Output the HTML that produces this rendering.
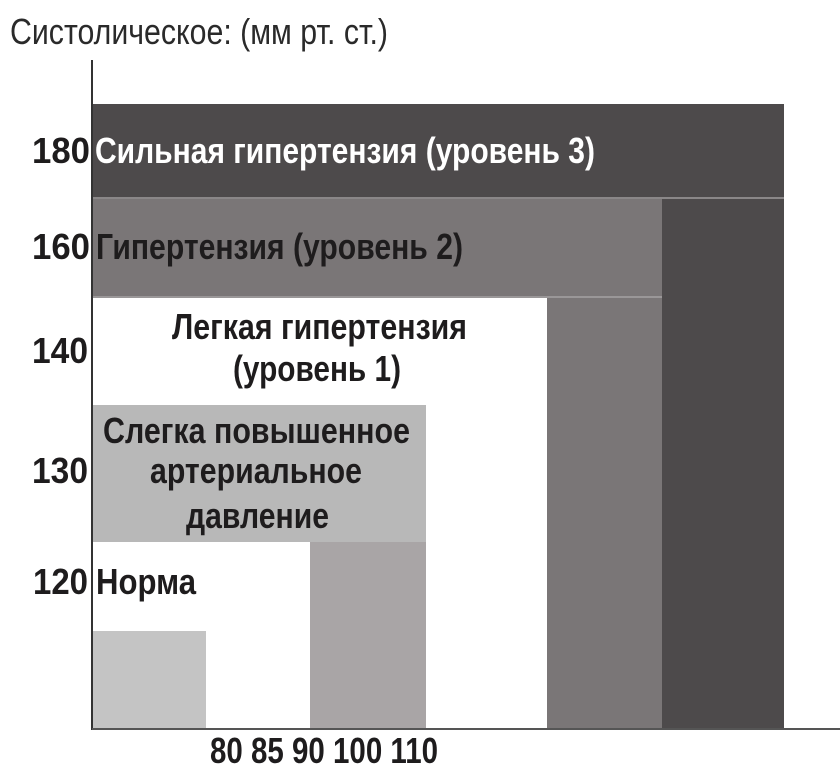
<!DOCTYPE html>
<html><head><meta charset="utf-8"><style>
html,body{margin:0;padding:0;background:#fff;width:840px;height:765px;overflow:hidden}
svg{display:block}
text{font-family:"Liberation Sans",sans-serif}
.b{font-weight:bold;font-size:36px;fill:#1e1c1d}
</style></head><body>
<svg width="840" height="765" viewBox="0 0 840 765">
<text x="10" y="44" font-size="36" fill="#2a2a2a" textLength="378" lengthAdjust="spacingAndGlyphs">Систолическое: (мм рт. ст.)</text>
<rect x="93" y="104" width="691" height="94" fill="#4d4a4b"/>
<rect x="93" y="198" width="569" height="99" fill="#7a7677"/>
<rect x="662" y="198" width="122" height="531" fill="#4d4a4b"/>
<rect x="547" y="297" width="115" height="432" fill="#7a7677"/>
<line x1="93" y1="198" x2="784" y2="198" stroke="#8a8788" stroke-width="2"/>
<line x1="93" y1="297" x2="662" y2="297" stroke="#9a9798" stroke-width="2"/>
<rect x="93" y="405" width="333" height="137" fill="#b8b8b8"/>
<rect x="310" y="542" width="116" height="187" fill="#a9a5a6"/>
<rect x="93" y="631" width="113" height="98" fill="#c4c4c4"/>
<line x1="92" y1="60" x2="92" y2="730" stroke="#333" stroke-width="2"/>
<line x1="92" y1="729" x2="840" y2="729" stroke="#555" stroke-width="2"/>
<text class="b" x="32" y="163" textLength="58" lengthAdjust="spacingAndGlyphs">180</text>
<text class="b" x="95" y="163" style="fill:#fff" textLength="500" lengthAdjust="spacingAndGlyphs">Сильная гипертензия (уровень 3)</text>
<text class="b" x="32" y="259" textLength="58" lengthAdjust="spacingAndGlyphs">160</text>
<text class="b" x="96" y="259" textLength="367" lengthAdjust="spacingAndGlyphs">Гипертензия (уровень 2)</text>
<text class="b" x="32" y="363" textLength="56" lengthAdjust="spacingAndGlyphs">140</text>
<text class="b" x="172" y="339" textLength="295" lengthAdjust="spacingAndGlyphs">Легкая гипертензия</text>
<text class="b" x="233" y="381" textLength="168" lengthAdjust="spacingAndGlyphs">(уровень 1)</text>
<text class="b" x="32" y="483" textLength="56" lengthAdjust="spacingAndGlyphs">130</text>
<text class="b" x="103" y="443" textLength="307" lengthAdjust="spacingAndGlyphs">Слегка повышенное</text>
<text class="b" x="150" y="483" textLength="212" lengthAdjust="spacingAndGlyphs">артериальное</text>
<text class="b" x="186" y="528" textLength="143" lengthAdjust="spacingAndGlyphs">давление</text>
<text class="b" x="33" y="594" textLength="55" lengthAdjust="spacingAndGlyphs">120</text>
<text class="b" x="96" y="594" textLength="100" lengthAdjust="spacingAndGlyphs">Норма</text>
<text class="b" x="210" y="763" textLength="228" lengthAdjust="spacingAndGlyphs">80 85 90 100 110</text>
</svg>
</body></html>
